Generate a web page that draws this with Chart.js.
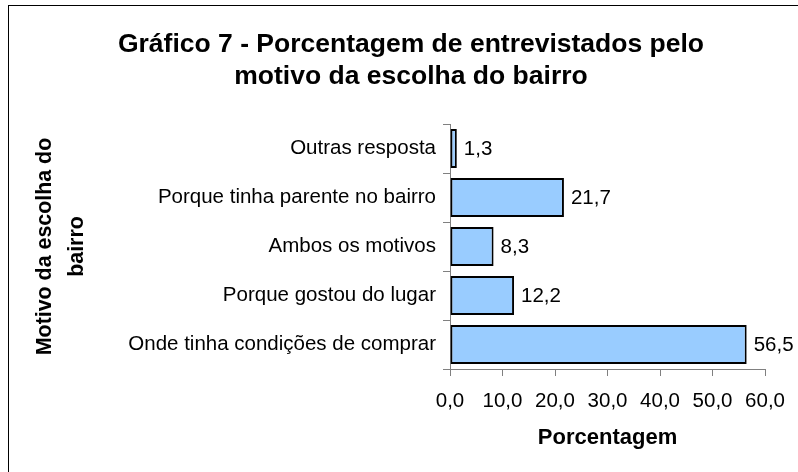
<!DOCTYPE html>
<html>
<head>
<meta charset="utf-8">
<script src="https://cdn.jsdelivr.net/npm/chart.js@4.4.0/dist/chart.umd.min.js"></script>
<style>
  html, body { margin: 0; padding: 0; background: #fff; }
  #wrap { width: 798px; height: 472px; }
</style>
</head>
<body>
<div id="wrap"><canvas id="c" width="798" height="472"></canvas></div>
<script>
const categories = [
  'Outras resposta',
  'Porque tinha parente no bairro',
  'Ambos os motivos',
  'Porque gostou do lugar',
  'Onde tinha condições de comprar'
];
const values = [1.3, 21.7, 8.3, 12.2, 56.5];
const xTicks = [0, 10, 20, 30, 40, 50, 60];
const titleLines = ['Gráfico 7 - Porcentagem de entrevistados pelo', 'motivo da escolha do bairro'];
const yTitleLines = ['Motivo da escolha do', 'bairro'];
const xTitle = 'Porcentagem';

const FONT = "'Liberation Sans', Arial, sans-serif";
const fmt = v => v.toFixed(1).replace('.', ',');

const frame = {
  id: 'frame',
  beforeDraw(chart) {
    const ctx = chart.ctx;
    ctx.save();
    ctx.fillStyle = '#fff';
    ctx.fillRect(0, 0, chart.width, chart.height);
    ctx.strokeStyle = '#000';
    ctx.lineWidth = 1;
    ctx.strokeRect(8.5, 5.5, 1000, 1000);
    ctx.restore();
  },
  afterDraw(chart) {
    const ctx = chart.ctx;
    ctx.save();
    ctx.font = 'bold 26.5px ' + FONT;
    ctx.fillStyle = '#000';
    ctx.textAlign = 'center';
    ctx.textBaseline = 'middle';
    titleLines.forEach((t, i) => ctx.fillText(t, 411, 45 + i * 32));
    ctx.restore();
  }
};

const barLabels = {
  id: 'barLabels',
  afterDatasetsDraw(chart) {
    const ctx = chart.ctx;
    const meta = chart.getDatasetMeta(0);
    ctx.save();
    ctx.font = '20.5px ' + FONT;
    ctx.fillStyle = '#000';
    ctx.textAlign = 'left';
    ctx.textBaseline = 'middle';
    meta.data.forEach((bar, i) => {
      ctx.fillText(fmt(values[i]), bar.x + 7, bar.y + 1);
    });
    ctx.restore();
  }
};

new Chart(document.getElementById('c'), {
  type: 'bar',
  data: {
    labels: categories,
    datasets: [{
      data: values,
      backgroundColor: '#99CCFF',
      borderColor: '#000',
      borderWidth: 2,
      borderSkipped: false,
      barPercentage: 0.8,
      categoryPercentage: 1
    }]
  },
  plugins: [frame, barLabels],
  options: {
    indexAxis: 'y',
    responsive: false,
    animation: false,
    devicePixelRatio: 1,
    layout: { padding: { left: 24, right: 32, top: 124, bottom: 21 } },
    plugins: {
      legend: { display: false },
      tooltip: { enabled: false },
      title: { display: false }
    },
    scales: {
      x: {
        type: 'linear',
        min: 0,
        max: 60,
        afterBuildTicks(scale) { scale.ticks = xTicks.map(v => ({ value: v })); },
        afterFit(scale) { scale.height = 82; },
        ticks: {
          color: '#000',
          font: { family: FONT, size: 20.5 },
          padding: 13,
          maxRotation: 0,
          autoSkip: false,
          callback: v => fmt(v)
        },
        grid: { drawOnChartArea: false, drawTicks: true, tickLength: 7, color: '#808080' },
        border: { color: '#808080', width: 1 },
        title: {
          display: true,
          text: xTitle,
          color: '#000',
          font: { family: FONT, size: 22, weight: 'bold', lineHeight: 1.2 },
          padding: { top: 0, bottom: 0 }
        }
      },
      y: {
        type: 'category',
        afterFit(scale) { scale.width = 426; },
        ticks: {
          color: '#000',
          font: { family: FONT, size: 20.5 },
          padding: 7,
          autoSkip: false
        },
        grid: { offset: true, drawOnChartArea: false, drawTicks: true, tickLength: 7, color: '#808080' },
        border: { color: '#808080', width: 1 },
        title: {
          display: true,
          text: yTitleLines,
          color: '#000',
          font: { family: FONT, size: 21.4, weight: 'bold', lineHeight: 1.5 },
          padding: { top: 5, bottom: 0 }
        }
      }
    }
  }
});
</script>
</body>
</html>
